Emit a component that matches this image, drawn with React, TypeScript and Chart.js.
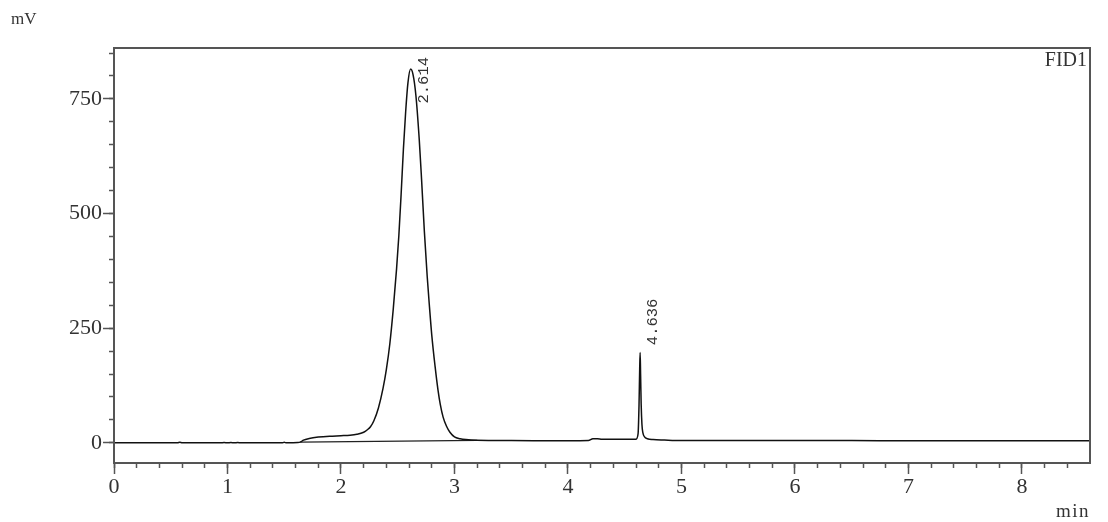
import React, { useEffect, useRef } from "react";
import { Chart, registerables } from "chart.js";

Chart.register(...registerables);

// Retention time (min) and detector signal (mV)
const retentionTimes = [
  0, 0.56, 0.58, 0.6, 0.62, 0.94, 0.97, 1.0, 1.03, 1.06, 1.09, 1.12, 1.15, 1.48, 1.5, 1.52,
  1.62, 1.645, 1.67, 1.72, 1.8, 1.9, 2.0, 2.08, 2.14, 2.2, 2.23, 2.26, 2.29, 2.33, 2.37, 2.4,
  2.43, 2.46, 2.49, 2.51, 2.53, 2.55, 2.57, 2.59, 2.614, 2.635, 2.66, 2.69, 2.71, 2.735, 2.76,
  2.78, 2.8, 2.83, 2.855, 2.875, 2.9, 2.93, 2.96, 3.0, 3.05, 3.1, 3.2, 3.5, 4.0, 4.18, 4.22,
  4.26, 4.3, 4.45, 4.6, 4.618, 4.626, 4.632, 4.636, 4.64, 4.645, 4.652, 4.66, 4.675, 4.7, 4.75,
  4.85, 5.0, 5.5, 6.0, 6.5, 7.0, 7.5, 8.0, 8.6,
];
const signalMV = [
  0, 0, 1.2, 0, 0, 0, 0.8, 0, 0.8, 0, 0.8, 0, 0, 0, 1, 0,
  0.5, 2, 6, 9.5, 12.5, 14.5, 15.5, 16.5, 18.5, 23, 28, 35, 48, 76, 118, 160,
  215, 290, 380, 452, 542, 640, 722, 785, 815, 803, 758, 660, 575, 460, 362,
  296, 235, 165, 115, 84, 56, 36, 23, 13, 9, 7, 5.5, 5, 4.5, 5, 9,
  9, 8, 8, 8, 20, 80, 160, 197, 150, 85, 40, 22, 13, 9, 7,
  6, 5, 5, 5, 5, 4.5, 4.5, 4.5, 4.5,
];

// Integration baseline drawn under the main peak
const baselineTimes = [1.64, 3.2];
const baselineMV = [1.5, 5.5];

// Peak annotations
const peakTimes = [2.614, 4.636];
const peakLabels = ["2.614", "4.636"];
const peakLabelAnchorMV = [740, 213];

const detectorLabel = "FID1";
const yAxisUnit = "mV";
const xAxisUnit = "min";

const xRange = [0, 8.6];
const yRange = [-44, 861];
const xMajorStep = 1;
const xMinorStep = 0.2;
const yMajorStep = 250;
const yMinorStep = 50;

const FRAME = "#555555";
const TEXT = "#333333";

export default function App() {
  const canvasRef = useRef<HTMLCanvasElement | null>(null);

  useEffect(() => {
    const canvas = canvasRef.current;
    if (!canvas) return;

    const textPlugin = {
      id: "chromText",
      afterDatasetsDraw(chart: any) {
        const { ctx, chartArea, scales } = chart;
        ctx.save();
        ctx.strokeStyle = FRAME;
        ctx.lineWidth = 2;
        ctx.strokeRect(
          chartArea.left,
          chartArea.top,
          chartArea.right - chartArea.left,
          chartArea.bottom - chartArea.top
        );
        ctx.fillStyle = TEXT;
        ctx.font = '15.5px "Liberation Mono"';
        peakTimes.forEach((t, i) => {
          const px = scales.x.getPixelForValue(t) + 13;
          const py = scales.y.getPixelForValue(peakLabelAnchorMV[i]);
          ctx.save();
          ctx.translate(px, py);
          ctx.rotate(-Math.PI / 2);
          ctx.textAlign = "left";
          ctx.textBaseline = "middle";
          ctx.fillText(peakLabels[i], 0, 0);
          ctx.restore();
        });
        ctx.font = '20px "Liberation Serif"';
        ctx.textAlign = "right";
        ctx.textBaseline = "alphabetic";
        ctx.fillText(detectorLabel, chartArea.right - 3, chartArea.top + 18);
        ctx.restore();
      },
      afterDraw(chart: any) {
        const { ctx } = chart;
        ctx.save();
        ctx.fillStyle = TEXT;
        ctx.font = '17px "Liberation Serif"';
        ctx.textAlign = "left";
        ctx.textBaseline = "alphabetic";
        ctx.fillText(yAxisUnit, 11, 24);
        ctx.font = '19px "Liberation Serif"';
        (ctx as any).letterSpacing = "1.5px";
        ctx.textAlign = "right";
        ctx.fillText(xAxisUnit, 1090, 517);
        ctx.restore();
      },
    };

    const tickFont = { family: '"Liberation Serif"', size: 22 };

    const chart = new Chart(canvas, {
      type: "line",
      data: {
        datasets: [
          {
            data: retentionTimes.map((t, i) => ({ x: t, y: signalMV[i] })),
            borderColor: "#111111",
            borderWidth: 1.5,
            pointRadius: 0,
            cubicInterpolationMode: "monotone",
            fill: false,
          },
          {
            data: baselineTimes.map((t, i) => ({ x: t, y: baselineMV[i] })),
            borderColor: "#222222",
            borderWidth: 1.2,
            pointRadius: 0,
            fill: false,
          },
        ],
      },
      options: {
        animation: false,
        responsive: false,
        maintainAspectRatio: false,
        events: [],
        layout: { padding: { left: 0, top: 48, right: 18, bottom: 0 } },
        plugins: { legend: { display: false }, tooltip: { enabled: false } },
        scales: {
          x: {
            type: "linear",
            position: "bottom",
            weight: 1,
            min: xRange[0],
            max: xRange[1],
            ticks: {
              stepSize: xMajorStep,
              includeBounds: false,
              maxTicksLimit: 100,
              autoSkip: false,
              maxRotation: 0,
              font: tickFont,
              color: TEXT,
              padding: 0,
            },
            grid: {
              drawOnChartArea: false,
              tickLength: 11,
              tickColor: FRAME,
              tickWidth: 1.5,
            },
            border: { display: false },
            afterFit: (s: any) => {
              s.height = 59;
            },
          },
          xMinor: {
            type: "linear",
            position: "bottom",
            weight: 0,
            min: xRange[0],
            max: xRange[1],
            ticks: { stepSize: xMinorStep, includeBounds: false, maxTicksLimit: 100, display: false },
            grid: { drawOnChartArea: false, tickLength: 5, tickColor: FRAME, tickWidth: 1.5 },
            border: { display: false },
            afterBuildTicks: (s: any) => {
              s.ticks = s.ticks.filter((t: any) => t.value < xRange[1] - 0.01);
            },
            afterFit: (s: any) => {
              s.height = 0;
            },
          },
          y: {
            type: "linear",
            position: "left",
            weight: 1,
            min: yRange[0],
            max: yRange[1],
            ticks: {
              stepSize: yMajorStep,
              includeBounds: false,
              maxTicksLimit: 100,
              font: tickFont,
              color: TEXT,
              padding: 1,
            },
            grid: {
              drawOnChartArea: false,
              tickLength: 11,
              tickColor: FRAME,
              tickWidth: 1.5,
            },
            border: { display: false },
            afterFit: (s: any) => {
              s.width = 114;
            },
          },
          yMinor: {
            type: "linear",
            position: "left",
            weight: 0,
            min: yRange[0],
            max: yRange[1],
            ticks: { stepSize: yMinorStep, includeBounds: false, maxTicksLimit: 100, display: false },
            grid: { drawOnChartArea: false, tickLength: 5, tickColor: FRAME, tickWidth: 1.5 },
            border: { display: false },
            afterFit: (s: any) => {
              s.width = 0;
            },
          },
        },
      },
      plugins: [textPlugin],
    } as any);

    return () => {
      chart.destroy();
    };
  }, []);

  return (
    <div style={{ position: "fixed", left: 0, top: 0, width: 1108, height: 522, background: "#ffffff" }}>
      <canvas ref={canvasRef} width={1108} height={522} style={{ display: "block" }} />
    </div>
  );
}
